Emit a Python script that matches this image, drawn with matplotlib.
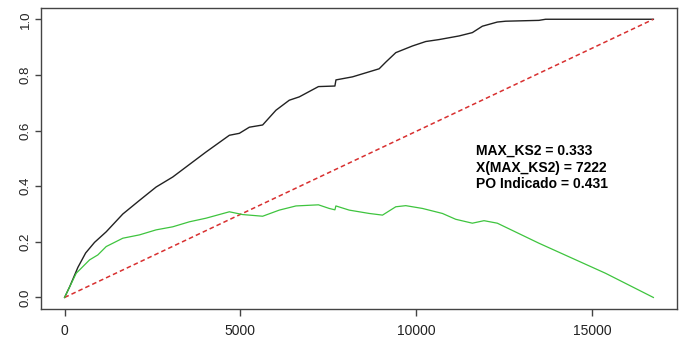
import matplotlib
matplotlib.use("Agg")
import matplotlib.pyplot as plt

plt.rcParams['font.family'] = ['Liberation Sans', 'DejaVu Sans']

# Cumulative curve (black)
ks_x = [0, 150, 378, 600, 852, 1184, 1657, 2131, 2604, 3077, 3456, 4025, 4688, 4972,
        5256, 5634, 6013, 6392, 6676, 7222, 7690, 7720, 8191, 8949, 9138, 9422, 9896,
        10275, 10653, 11222, 11600, 11884, 12310, 12548, 13494, 13684, 16750]
ks_y = [0, 0.04, 0.108, 0.16, 0.198, 0.236, 0.300, 0.349, 0.397, 0.433, 0.469, 0.523,
        0.583, 0.590, 0.612, 0.620, 0.673, 0.709, 0.721, 0.758, 0.760, 0.782, 0.793,
        0.822, 0.846, 0.880, 0.904, 0.920, 0.927, 0.940, 0.952, 0.975, 0.990, 0.993,
        0.996, 1.0, 1.0]

# Difference curve (green)
diff_x = [0, 331, 710, 947, 1184, 1657, 2131, 2604, 3077, 3551, 4025, 4688, 5066, 5634,
          6108, 6582, 7222, 7528, 7690, 7718, 8097, 8665, 9044, 9422, 9706, 10180, 10748,
          11127, 11600, 11932, 12310, 13494, 14441, 15388, 16750]
diff_y = [0, 0.087, 0.135, 0.153, 0.183, 0.213, 0.225, 0.243, 0.254, 0.272, 0.285, 0.308,
          0.298, 0.292, 0.314, 0.329, 0.333, 0.320, 0.315, 0.329, 0.314, 0.302, 0.296,
          0.326, 0.330, 0.320, 0.302, 0.281, 0.267, 0.276, 0.267, 0.195, 0.141, 0.087, 0.0]

# Diagonal (red dashed)
diag_x = [0, 16750]
diag_y = [0, 1]

x_ticks = [0, 5000, 10000, 15000]
y_ticks = [0.0, 0.2, 0.4, 0.6, 0.8, 1.0]
y_tick_labels = ["0.0", "0.2", "0.4", "0.6", "0.8", "1.0"]

annot_lines = ["MAX_KS2 = 0.333", "X(MAX_KS2) = 7222", "PO Indicado = 0.431"]
annot_x = 11705
annot_y = [0.512, 0.452, 0.392]

fig = plt.figure(figsize=(6.86, 3.43), dpi=100)
ax = fig.add_axes([0.0598, 0.1003, 0.927, 0.876])

ax.plot(ks_x, ks_y, color='#222222', lw=1.0)
ax.plot(diag_x, diag_y, color='#d83030', lw=1.1, ls=(0, (3, 2)))
ax.plot(diff_x, diff_y, color='#3ec43e', lw=0.9)

xmax = diag_x[-1]
ax.set_xlim(-0.04 * xmax, 1.04 * xmax)
ax.set_ylim(-0.04, 1.04)
ax.set_xticks(x_ticks)
ax.set_xticklabels([str(t) for t in x_ticks])
ax.set_yticks(y_ticks)
ax.set_yticklabels(y_tick_labels, rotation=90, va='center')

for sp in ax.spines.values():
    sp.set_color('#444444')
    sp.set_linewidth(1.0)
ax.tick_params(axis='x', length=5, width=1, color='#444444', labelsize=10, pad=6, labelcolor='#222222')
ax.tick_params(axis='y', length=4.5, width=1, color='#444444', labelsize=9.5, pad=2, labelcolor='#222222')

for line, yy in zip(annot_lines, annot_y):
    ax.text(annot_x, yy, line, fontsize=10, fontweight='bold', va='baseline', ha='left', color='black')

fig.savefig("out.png", dpi=100)
